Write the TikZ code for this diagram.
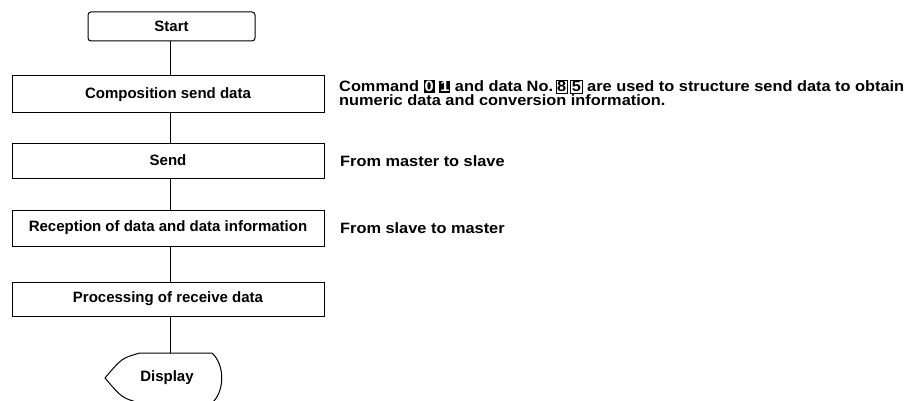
\documentclass[tikz,border=0pt]{standalone}
\usepackage{fontspec}
\setmainfont{Liberation Sans}
\newfontfamily\notefont[FakeStretch=1.09]{Liberation Sans}
\begin{document}
\begin{tikzpicture}[x=1pt,y=-1pt,
  every node/.style={font=\fontsize{15}{13.5}\selectfont\bfseries},
  box/.style={draw,line width=1pt,minimum width=312pt,inner sep=0pt},
  note/.style={anchor=west,align=left,inner sep=0pt,font=\notefont\fontsize{15}{14}\selectfont\bfseries},
  conn/.style={line width=0.9pt}]
\newcommand{\blkd}[1]{{\setlength{\fboxsep}{1pt}\colorbox{black}{\textcolor{white}{#1}}}}
\newcommand{\frmd}[1]{{\setlength{\fboxsep}{1pt}\setlength{\fboxrule}{0.6pt}\fbox{#1}}}
\useasboundingbox (0,0) rectangle (907,401);
\clip (0,0) rectangle (907,401);
\node[draw,line width=1pt,rounded corners=3pt,minimum width=167pt,minimum height=29pt,inner sep=0pt] (start) at (171.5,26.5) {Start};
\node[box,minimum height=37pt] (comp) at (168,94.5) {Composition send data};
\node[box,minimum height=35pt] (send) at (168,160.5) {Send};
\node[box,minimum height=36pt] (recv) at (168,228) {Reception of data and data information};
\node[box,minimum height=34pt] (proc) at (168,299) {Processing of receive data};
\coordinate (dtop) at (170,353);
\draw[line width=1pt] (140,353) -- (212,353) .. controls (225,365) and (225,391) .. (212,403)
  -- (140,403) .. controls (122,398) .. (105,378) .. controls (122,358) .. (140,353);
\node (disp) at (167,378) {Display};
\draw[conn] (start.south -| 170,0) -- (comp.north -| 170,0);
\draw[conn] (comp.south -| 170,0) -- (send.north -| 170,0);
\draw[conn] (send.south -| 170,0) -- (recv.north -| 170,0);
\draw[conn] (recv.south -| 170,0) -- (proc.north -| 170,0);
\draw[conn] (proc.south -| 170,0) -- (dtop);
\node[note] (n1) at (339,93) {Command \blkd{0}\ \blkd{1} and data No.\,\frmd{8}\,\frmd{5} are used to structure send data to obtain\\numeric data and conversion information.};
\node[note] (n2) at (340,161.5) {From master to slave};
\node[note] (n3) at (340,228.5) {From slave to master};
\end{tikzpicture}
\end{document}
